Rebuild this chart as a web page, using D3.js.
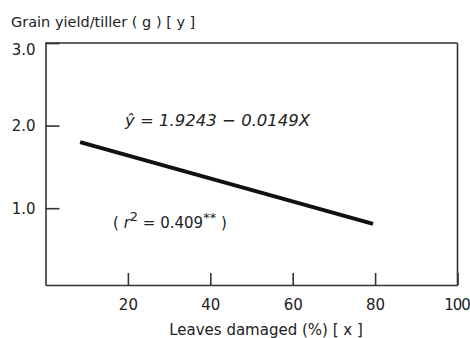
<!DOCTYPE html>
<html>
<head>
<meta charset="utf-8">
<script src="https://cdn.jsdelivr.net/npm/d3@7"></script>
<style>
  body { margin: 0; background: #fff; }
  svg text { font-family: "DejaVu Sans", "Liberation Sans", sans-serif; fill: #222; }
</style>
</head>
<body>
<div id="chart"></div>
<script>
// Chart data
const xTicks = [20, 40, 60, 80, 100];
const yTicks = [1.0, 2.0, 3.0];
const fitX = [8.4, 79.5];           // leaves damaged (%)
const fitY = [1.80, 0.81];          // grain yield per tiller (g)
const intercept = "1.9243";
const slope = "0.0149";
const rSquared = "0.409";

const width = 470, height = 338;

const svg = d3.select("#chart")
    .append("svg")
    .attr("width", width)
    .attr("height", height);

// Scales
const x = d3.scaleLinear().domain([0, 100]).range([45.5, 457.5]);
const y = d3.scaleLinear().domain([0.07, 3.0]).range([285, 43]);

// Left axis, ticks pointing into the plot
const yAxis = svg.append("g")
    .attr("transform", `translate(${x(0)},0)`)
    .call(d3.axisLeft(y).tickValues(yTicks).tickSize(-14).tickSizeOuter(0)
        .tickPadding(10).tickFormat(d3.format(".1f")));

// Bottom axis, ticks pointing up
const xAxis = svg.append("g")
    .attr("transform", `translate(0,${y(0.07)})`)
    .call(d3.axisBottom(x).tickValues(xTicks).tickSize(-12).tickSizeOuter(0)
        .tickPadding(14).tickFormat(d3.format("d")));

[yAxis, xAxis].forEach(g => {
    g.select(".domain").attr("stroke", "#333").attr("stroke-width", 1.6);
    g.selectAll(".tick line").attr("stroke", "#333").attr("stroke-width", 1.6);
    g.selectAll(".tick text")
        .style("font-family", "'DejaVu Sans', sans-serif")
        .attr("font-size", 15)
        .attr("fill", "#222");
});

// the top label sits a little below its tick in the original
yAxis.selectAll(".tick text").filter(d => d === 3.0).attr("dy", "0.75em");
// the 100 label runs into the right edge; squeeze it a little
xAxis.selectAll(".tick text").filter(d => d === 100)
    .attr("letter-spacing", -1).attr("dx", -1);

// Top and right frame
svg.append("line")
    .attr("x1", x(0)).attr("x2", x(100))
    .attr("y1", y(3.0)).attr("y2", y(3.0))
    .attr("stroke", "#333").attr("stroke-width", 1.6);
svg.append("line")
    .attr("x1", x(100)).attr("x2", x(100))
    .attr("y1", y(3.0)).attr("y2", y(0.07))
    .attr("stroke", "#333").attr("stroke-width", 1.6);

// Regression line
const fitData = fitX.map((d, i) => [d, fitY[i]]);
svg.append("path")
    .datum(fitData)
    .attr("fill", "none")
    .attr("stroke", "#111")
    .attr("stroke-width", 4)
    .attr("d", d3.line().x(d => x(d[0])).y(d => y(d[1])));

// Axis titles
svg.append("text")
    .attr("x", 11)
    .attr("y", 27)
    .attr("font-size", 14.5)
    .text("Grain yield/tiller ( g ) [ y ]");

svg.append("text")
    .attr("x", 266)
    .attr("y", 335)
    .attr("text-anchor", "middle")
    .attr("font-size", 15)
    .text("Leaves damaged (%) [ x ]");

// Equation
svg.append("text")
    .attr("x", 125)
    .attr("y", 126)
    .attr("font-size", 16.5)
    .attr("font-style", "italic")
    .text(`\u0177 = ${intercept} \u2212 ${slope}X`);

// r squared
const r2 = svg.append("text")
    .attr("x", 113)
    .attr("y", 228)
    .attr("font-size", 15);
r2.append("tspan").text("( ");
r2.append("tspan").attr("font-style", "italic").text("r");
r2.append("tspan").attr("dy", -7).attr("font-size", 13).text("2");
r2.append("tspan").attr("dy", 7).text(` = ${rSquared}`);
r2.append("tspan").attr("dy", -6).attr("font-size", 13).text("**");
r2.append("tspan").attr("dy", 6).text(" )");
</script>
</body>
</html>
